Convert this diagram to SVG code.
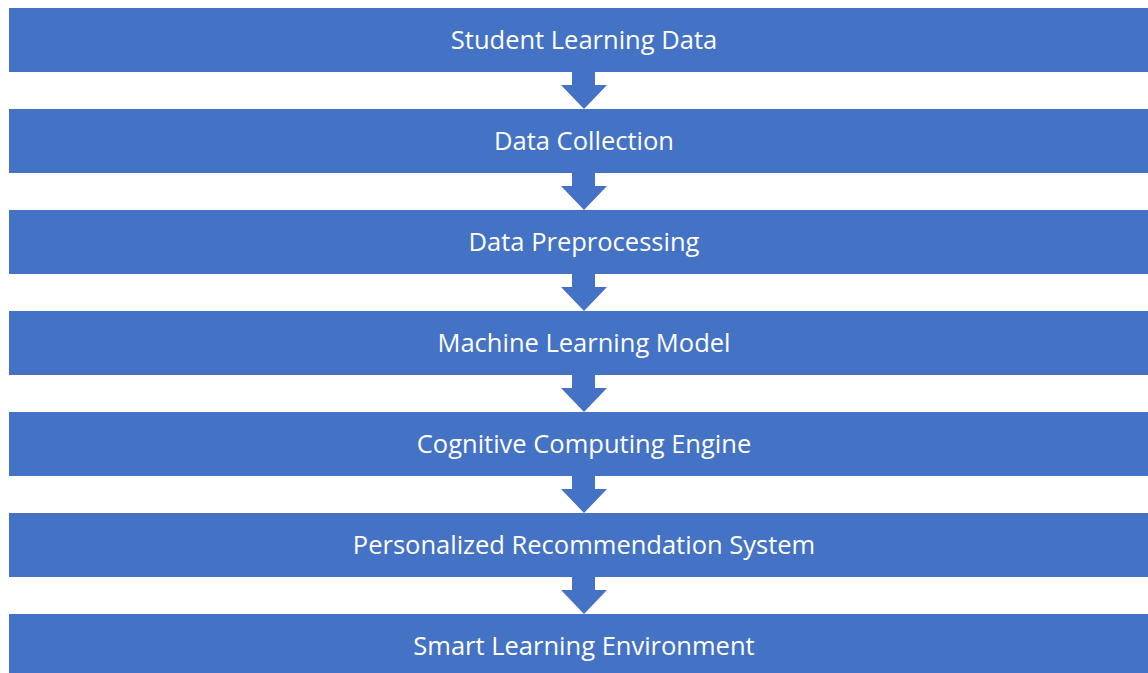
<svg xmlns="http://www.w3.org/2000/svg" width="1148" height="673" viewBox="0 0 1148 673">
  <defs>
    <style>
      .box { fill: #4472C4; }
      .lbl { fill: #FFFFFF; font-family: "Open Sans", "Noto Sans", "Liberation Sans", sans-serif; font-size: 25.5px; text-anchor: middle; dominant-baseline: central; }
      .arrow { fill: #4472C4; }
    </style>
    <path id="down" class="arrow" d="M -12 0 H 11 V 13 H 23 L 0 37 L -23 13 H -12 Z"/>
  </defs>
  <rect width="1148" height="673" fill="#FFFFFF"/>

  <g id="connectors">
    <use href="#down" x="584" y="72"/>
    <use href="#down" x="584" y="173"/>
    <use href="#down" x="584" y="274"/>
    <use href="#down" x="584" y="375"/>
    <use href="#down" x="584" y="476"/>
    <use href="#down" x="584" y="577"/>
  </g>

  <g id="student-learning-data">
    <rect class="box" x="9" y="8" width="1150" height="64"/>
    <text class="lbl" x="584" y="39">Student Learning Data</text>
  </g>
  <g id="data-collection">
    <rect class="box" x="9" y="109" width="1150" height="64"/>
    <text class="lbl" x="584" y="140">Data Collection</text>
  </g>
  <g id="data-preprocessing">
    <rect class="box" x="9" y="210" width="1150" height="64"/>
    <text class="lbl" x="584" y="241">Data Preprocessing</text>
  </g>
  <g id="machine-learning-model">
    <rect class="box" x="9" y="311" width="1150" height="64"/>
    <text class="lbl" x="584" y="342">Machine Learning Model</text>
  </g>
  <g id="cognitive-computing-engine">
    <rect class="box" x="9" y="412" width="1150" height="64"/>
    <text class="lbl" x="584" y="443">Cognitive Computing Engine</text>
  </g>
  <g id="personalized-recommendation-system">
    <rect class="box" x="9" y="513" width="1150" height="64"/>
    <text class="lbl" x="584" y="544">Personalized Recommendation System</text>
  </g>
  <g id="smart-learning-environment">
    <rect class="box" x="9" y="614" width="1150" height="64"/>
    <text class="lbl" x="584" y="645">Smart Learning Environment</text>
  </g>
</svg>
